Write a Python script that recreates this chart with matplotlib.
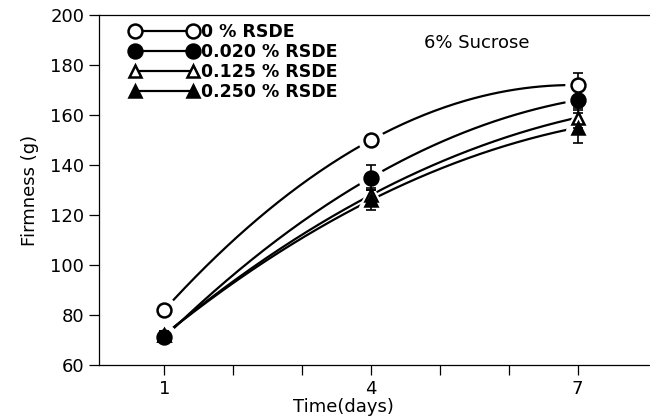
import numpy as np
import matplotlib
matplotlib.use("Agg")
import matplotlib.pyplot as plt

# firmness (g) vs storage time, 6% sucrose
days = [1, 4, 7]
labels = ['0 % RSDE', '0.020 % RSDE', '0.125 % RSDE', '0.250 % RSDE']
firm_0 = [82, 150, 172]
firm_020 = [71, 135, 166]
firm_125 = [72, 128, 159]
firm_250 = [72, 126, 155]
err_0 = [1.5, 1.5, 5]
err_020 = [1.5, 5, 4]
err_125 = [1.5, 3, 4]
err_250 = [1.5, 4, 6]

series = [firm_0, firm_020, firm_125, firm_250]
errs = [err_0, err_020, err_125, err_250]
markers = ['o', 'o', '^', '^']
faces = ['white', 'black', 'white', 'black']
msizes = [10, 10, 9, 9]

fig = plt.figure(figsize=(6.5, 4.19), dpi=100)
ax = fig.add_axes([0.152, 0.129, 0.848, 0.835])

xs = np.linspace(1, 7, 200)
for y in series:
    coef = np.polyfit(days, y, 2)
    ax.plot(xs, np.polyval(coef, xs), color='black', lw=1.6, zorder=2)

# white halo so lines break around symbols
for y, m, s in zip(series, markers, msizes):
    ax.plot(days, y, ls='none', marker=m, ms=s + 8, mfc='white', mec='white', zorder=3)

for y, e in zip(series, errs):
    ax.errorbar(days, y, yerr=e, fmt='none', ecolor='black', elinewidth=1.2,
                capsize=3.5, capthick=1.2, zorder=4)

handles = []
for y, m, f, s, lab in zip(series, markers, faces, msizes, labels):
    ax.plot(days, y, ls='none', marker=m, ms=s, mfc=f, mec='black', mew=1.8, zorder=5)
    h, = ax.plot([], [], color='black', lw=1.6, marker=m, ms=s, mfc=f,
                 mec='black', mew=1.8, label=lab)
    handles.append(h)

leg = ax.legend(handles=handles, loc='upper left', numpoints=2, handlelength=3.9,
                frameon=False, borderaxespad=0.3, handletextpad=0.15,
                labelspacing=0.12, prop={'size': 12.5, 'weight': 'bold'},
                bbox_to_anchor=(0.035, 1.012))

ax.text(0.59, 0.905, '6% Sucrose', transform=ax.transAxes, fontsize=13)

ax.set_xlim(0.05, 8.05)
ax.set_ylim(60, 200)
ax.set_xticks(range(1, 8))
ax.set_xticklabels(['1', '', '', '4', '', '', '7'])
ax.set_yticks(range(60, 201, 20))
ax.tick_params(axis='both', labelsize=13, length=7, width=0.9, direction='out')
ax.spines['right'].set_visible(False)
for sp in ['left', 'top', 'bottom']:
    ax.spines[sp].set_linewidth(0.9)

ax.set_ylabel('Firmness (g)', fontsize=13, labelpad=8)
ax.set_xlabel('Time(days)', fontsize=13, labelpad=0, x=0.443)

fig.savefig('out.png', dpi=100)
